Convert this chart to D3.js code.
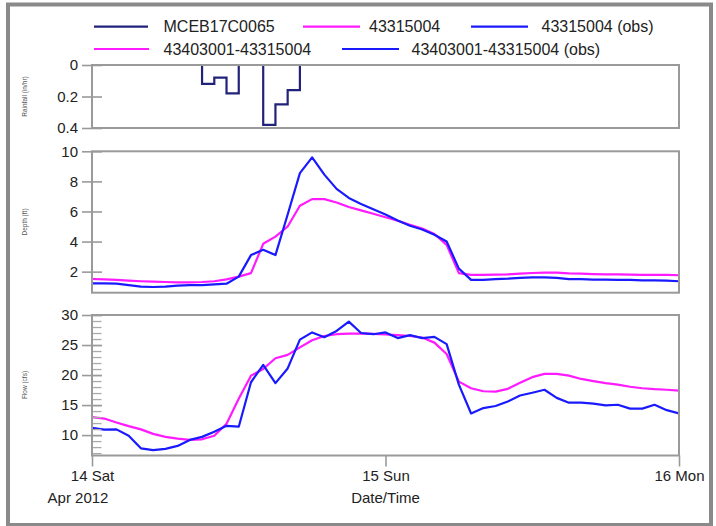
<!DOCTYPE html>
<html>
<head>
<meta charset="utf-8">
<script src="https://cdn.jsdelivr.net/npm/d3@7"></script>
<style>
  html, body { margin: 0; padding: 0; background: #fff; }
  svg { display: block; font-family: "Liberation Sans", Arial, sans-serif; }
</style>
</head>
<body>
<svg id="chart" width="716" height="526"></svg>
<script>
// ---------------- DATA ----------------
const startTime = "2012-04-14T00:00:00";
const endTime = "2012-04-16T00:00:00";
const xTickDates = ["2012-04-14T00:00:00", "2012-04-15T00:00:00", "2012-04-16T00:00:00"];
const xTickLabels = ["14 Sat", "15 Sun", "16 Mon"];

// hourly rainfall (in/hr), value holds for the following hour (hours 0..48)
const rainfall = [0,0,0,0,0,0,0,0,0, 0.12,0.08,0.18, 0,0, 0.38,0.25,0.16,
  0,0,0,0,0,0,0,0,0,0,0,0,0,0,0,0,0,0,0,0,0,0,0,0,0,0,0,0,0,0,0,0];

// depth (ft), hourly 0..48
const depthSim = [1.51,1.49,1.45,1.40,1.36,1.33,1.31,1.29,1.29,1.31,1.36,1.49,1.67,1.90,3.85,4.33,5.00,6.38,6.82,6.82,6.60,6.30,6.07,5.85,5.62,5.38,5.11,4.87,4.50,3.78,1.90,1.78,1.78,1.80,1.82,1.87,1.91,1.93,1.93,1.89,1.87,1.84,1.82,1.82,1.80,1.78,1.78,1.78,1.76];
const depthObs = [1.22,1.22,1.20,1.10,1.00,0.98,1.00,1.07,1.10,1.10,1.15,1.20,1.67,3.10,3.45,3.10,5.80,8.55,9.60,8.45,7.50,6.90,6.50,6.15,5.80,5.40,5.05,4.80,4.45,4.00,2.20,1.45,1.45,1.50,1.53,1.58,1.62,1.62,1.58,1.50,1.50,1.47,1.47,1.45,1.45,1.42,1.42,1.40,1.36];

// flow (cfs), hourly 0..48
const flowSim = [13.0,12.75,12.1,11.5,10.95,10.2,9.7,9.4,9.2,9.3,9.9,11.9,16.05,19.9,21.0,22.8,23.35,24.6,25.8,26.5,26.8,26.9,26.9,26.85,26.75,26.65,26.5,26.25,25.4,23.5,18.9,17.8,17.3,17.25,17.7,18.7,19.65,20.2,20.2,19.9,19.35,19.0,18.65,18.4,18.05,17.8,17.65,17.55,17.4];
const flowObs = [11.2,10.9,10.95,9.9,7.8,7.5,7.7,8.2,9.2,9.7,10.55,11.55,11.4,18.8,21.7,18.65,21.1,25.9,27.1,26.3,27.35,28.9,27.0,26.8,27.1,26.15,26.65,26.15,26.35,25.15,18.4,13.6,14.5,14.85,15.6,16.6,17.05,17.55,16.2,15.4,15.4,15.25,14.95,15.05,14.4,14.4,15.05,14.15,13.6];

const rainTicks = [0, 0.2, 0.4];
const depthTicks = [2, 4, 6, 8, 10];
const flowTicks = [10, 15, 20, 25, 30];
const flowMinorTicks = d3.range(7, 31);

const legendNames = ["MCEB17C0065", "43315004", "43315004 (obs)", "43403001-43315004", "43403001-43315004 (obs)"];
const legendColors = ["#22227a", "#ff1aff", "#1a1aff", "#ff1aff", "#1a1aff"];
const axisTitles = ["Rainfall (in/hr)", "Depth (ft)", "Flow (cfs)"];

// ---------------- LAYOUT ----------------
const svg = d3.select("#chart");
const parse = d3.isoParse;
const t0 = parse(startTime), t1 = parse(endTime);
const times = d3.range(rainfall.length).map(i => d3.timeHour.offset(t0, i));

const left = 92, right = 679;
const x = d3.scaleTime().domain([t0, t1]).range([left, right]);

const panels = [
  { top: 65, bottom: 128, domain: [0.4, 0], ticks: rainTicks, fmt: d3.format(".1~f"), invert: true },
  { top: 151.3, bottom: 292.7, domain: [0.6, 10], ticks: depthTicks, fmt: d3.format("d") },
  { top: 315, bottom: 455.5, domain: [6.6, 30], ticks: flowTicks, fmt: d3.format("d"), minor: flowMinorTicks }
];
panels.forEach(p => {
  p.y = d3.scaleLinear().domain(p.domain).range([p.bottom, p.top]);
});

// outer frame
svg.append("rect")
  .attr("x", 8).attr("y", 4.5).attr("width", 703).attr("height", 520.5)
  .attr("fill", "none").attr("stroke", "#8a8a8a").attr("stroke-width", 4);

// legend
const legendPos = [
  { x1: 94, x2: 148, tx: 163.5, y: 26.7 },
  { x1: 303, x2: 360, tx: 369, y: 26.7 },
  { x1: 471, x2: 528, tx: 541.5, y: 26.7 },
  { x1: 94, x2: 149, tx: 163.5, y: 49 },
  { x1: 342, x2: 399, tx: 411.5, y: 49 }
];
const lg = svg.append("g");
legendNames.forEach((name, i) => {
  const p = legendPos[i];
  lg.append("line").attr("x1", p.x1).attr("x2", p.x2).attr("y1", p.y).attr("y2", p.y)
    .attr("stroke", legendColors[i]).attr("stroke-width", 2.2);
  lg.append("text").attr("x", p.tx).attr("y", p.y).attr("dy", "0.36em")
    .attr("font-size", 16).attr("fill", "#222").text(name);
});

function styleAxis(g) {
  g.select(".domain").remove();
  g.selectAll(".tick line").attr("stroke", "#9a9a9a").attr("stroke-width", 1.6);
  g.selectAll(".tick text").attr("fill", "#222").attr("font-size", 15)
    .attr("font-family", "'Liberation Sans', Arial, sans-serif");
}

const titleY = [96.5, 222, 385];
const seriesPerPanel = [
  null,
  [{ v: depthSim, c: legendColors[1] }, { v: depthObs, c: legendColors[2] }],
  [{ v: flowSim, c: legendColors[3] }, { v: flowObs, c: legendColors[4] }]
];

panels.forEach((p, pi) => {
  const g = svg.append("g");
  const clipId = "clip" + pi;
  svg.append("clipPath").attr("id", clipId).append("rect")
    .attr("x", left).attr("y", p.top).attr("width", right - left).attr("height", p.bottom - p.top);

  // data
  const dg = g.append("g").attr("clip-path", `url(#${clipId})`);
  if (pi === 0) {
    const line = d3.line().x((d, i) => x(times[i])).y(d => p.y(d)).curve(d3.curveStepAfter);
    dg.append("path").datum(rainfall).attr("d", line)
      .attr("fill", "none").attr("stroke", legendColors[0]).attr("stroke-width", 2.2);
  } else {
    const line = d3.line().x((d, i) => x(times[i])).y(d => p.y(d));
    seriesPerPanel[pi].forEach(s => {
      dg.append("path").datum(s.v).attr("d", line)
        .attr("fill", "none").attr("stroke", s.c).attr("stroke-width", 2.2)
        .attr("stroke-linejoin", "round");
    });
  }

  // minor ticks (inward)
  if (p.minor) {
    g.append("g").attr("transform", `translate(${left},0)`)
      .call(d3.axisRight(p.y).tickValues(p.minor).tickSize(9.5).tickFormat(""))
      .call(styleAxis)
      .selectAll(".tick line").attr("stroke-width", 1.3).attr("stroke", "#aaa");
  }
  // major ticks outward with labels
  g.append("g").attr("transform", `translate(${left},0)`)
    .call(d3.axisLeft(p.y).tickValues(p.ticks).tickSize(10).tickPadding(4).tickFormat(p.fmt))
    .call(styleAxis);
  // major ticks inward
  g.append("g").attr("transform", `translate(${left},0)`)
    .call(d3.axisRight(p.y).tickValues(p.ticks).tickSize(10).tickFormat(""))
    .call(styleAxis);

  // panel frame
  g.append("rect").attr("x", left).attr("y", p.top)
    .attr("width", right - left).attr("height", p.bottom - p.top)
    .attr("fill", "none").attr("stroke", "#9a9a9a").attr("stroke-width", 2);

  // axis title
  svg.append("text")
    .attr("transform", `translate(27,${titleY[pi]}) rotate(-90)`)
    .attr("text-anchor", "middle").attr("font-size", 6.5).attr("fill", "#555")
    .text(axisTitles[pi]);
});

// x axis
const xTickMap = new Map(xTickDates.map((d, i) => [+parse(d), xTickLabels[i]]));
const xa = svg.append("g").attr("transform", `translate(0,${panels[2].bottom})`)
  .call(d3.axisBottom(x).tickValues(xTickDates.map(parse)).tickSize(11).tickPadding(4)
    .tickFormat(d => xTickMap.get(+d)))
  .call(styleAxis);

svg.append("text").attr("x", 78).attr("y", 503).attr("text-anchor", "middle")
  .attr("font-size", 15).attr("fill", "#222").text("Apr 2012");
svg.append("text").attr("x", x(parse(xTickDates[1]))).attr("y", 503).attr("text-anchor", "middle")
  .attr("font-size", 15).attr("fill", "#222").text("Date/Time");
</script>
</body>
</html>
